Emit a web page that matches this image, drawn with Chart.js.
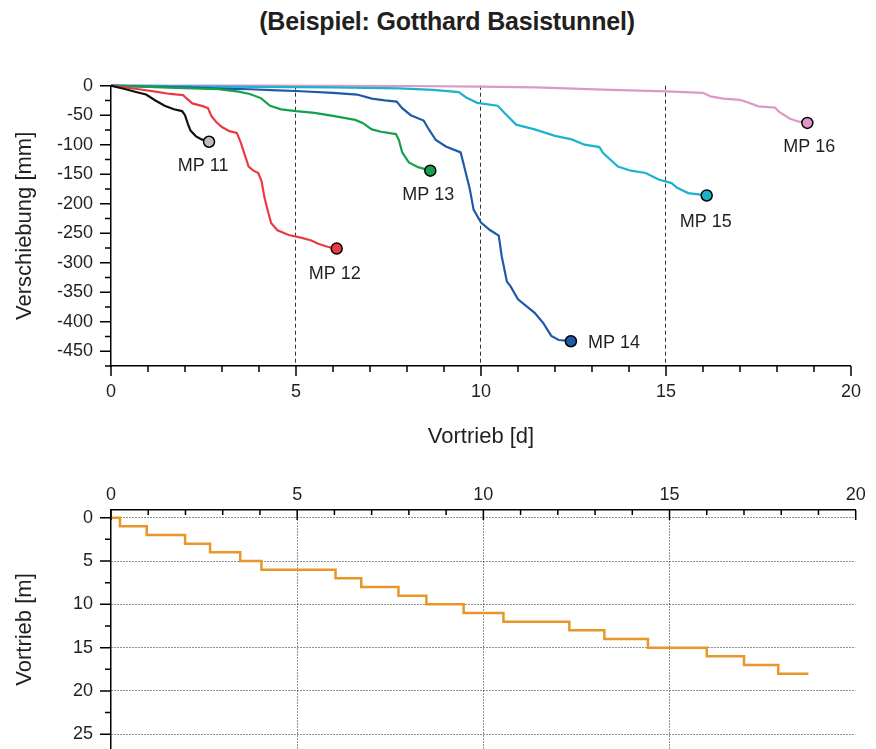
<!DOCTYPE html>
<html><head><meta charset="utf-8">
<script src="https://cdn.jsdelivr.net/npm/chart.js@4.4.1/dist/chart.umd.min.js"></script>
<style>
html,body{margin:0;padding:0;background:#fff;overflow:hidden;width:876px;height:749px;}
#title{position:absolute;left:0;top:6px;width:894px;text-align:center;font:bold 25px "Liberation Sans",Arial,sans-serif;line-height:30px;color:#231F20;letter-spacing:-0.2px;}
#c1{position:absolute;left:0;top:0;}
#c2{position:absolute;left:0;top:449px;}
</style></head><body>
<div id="title">(Beispiel: Gotthard Basistunnel)</div>
<canvas id="c1" width="876" height="460"></canvas>
<canvas id="c2" width="876" height="300"></canvas>
<script>
// ---- data (days, displacement mm) ----
const seriesNames = ['MP 11','MP 12','MP 13','MP 14','MP 15','MP 16'];
const mp11 = [[0,0],[0.4,-6],[0.7,-11],[0.95,-15],[1.2,-25],[1.45,-34],[1.7,-40],[1.92,-43],[2.0,-50],[2.08,-65],[2.15,-76],[2.3,-86],[2.45,-91],[2.65,-95]];
const mp12 = [[0,0],[0.4,-3],[0.75,-6],[1.2,-10],[1.6,-14],[1.95,-16],[2.05,-22],[2.2,-30],[2.5,-35],[2.62,-38],[2.72,-52],[2.85,-62],[3.0,-70],[3.2,-77],[3.4,-80],[3.5,-95],[3.62,-118],[3.72,-137],[3.85,-144],[3.98,-148],[4.07,-162],[4.15,-190],[4.25,-215],[4.33,-233],[4.5,-245],[4.8,-253],[5.1,-257],[5.4,-262],[5.6,-268],[5.85,-273],[6.1,-276]];
const mp13 = [[0,0],[1,-2],[2,-4],[2.9,-6],[3.45,-10],[3.75,-14],[4.05,-21],[4.3,-34],[4.6,-40],[5.0,-43],[5.5,-46],[6.0,-51],[6.6,-58],[6.8,-63],[7.05,-74],[7.3,-78],[7.7,-82],[7.78,-92],[7.87,-113],[8.05,-130],[8.3,-138],[8.63,-144]];
const mp14 = [[0,0],[1,-1.5],[2,-3],[3,-5],[3.75,-6],[4.5,-8],[5.0,-9],[6.0,-12],[6.65,-15],[7.05,-22],[7.4,-25],[7.72,-27],[7.87,-38],[8.1,-50],[8.45,-59],[8.6,-75],[8.78,-92],[9.05,-103],[9.45,-113],[9.57,-143],[9.7,-176],[9.8,-210],[10.0,-232],[10.25,-245],[10.48,-254],[10.56,-289],[10.7,-332],[10.8,-340],[11.0,-362],[11.45,-385],[11.68,-402],[11.9,-424],[12.1,-431],[12.43,-433]];
const mp15 = [[0,0],[2,-1],[4,-2],[6,-3],[7.8,-4.5],[8.7,-7],[9.4,-11],[9.6,-20],[9.9,-29],[10.45,-34],[10.65,-47],[10.95,-66],[11.45,-74],[12.0,-85],[12.45,-91],[12.8,-100],[13.2,-104],[13.3,-114],[13.7,-137],[14.05,-144],[14.45,-148],[14.8,-159],[15.15,-165],[15.3,-173],[15.6,-182],[16.1,-186]];
const mp16 = [[0,0],[4,0],[8,-0.5],[10,-1.5],[11.5,-3],[13.3,-6.5],[15,-9.5],[16,-12],[16.2,-18],[16.55,-22],[17.0,-24],[17.2,-28],[17.5,-35],[17.95,-37],[18.05,-44],[18.35,-56],[18.6,-61],[18.82,-63]];
// ---- data (days, advance m) ----
const advance = [[0,0],[0.24,1],[0.96,2],[1.99,3],[2.66,4],[3.47,5],[4.04,6],[6.03,7],[6.72,8],[7.72,9],[8.47,10],[9.47,11],[10.54,12],[12.31,13],[13.25,14],[14.42,15],[16.0,16],[17.0,17],[17.92,18],[18.73,18]];
// ---- ticks ----
const dayTicks = [0,1,2,3,4,5,6,7,8,9,10,11,12,13,14,15,16,17,18,19,20];
const dayLabels = [0,5,10,15,20];
const dispTicks = [-475,-450,-425,-400,-375,-350,-325,-300,-275,-250,-225,-200,-175,-150,-125,-100,-75,-50,-25,0];
const dispLabels = [-450,-400,-350,-300,-250,-200,-150,-100,-50,0];
const advTicks = [0,2.5,5,7.5,10,12.5,15,17.5,20,22.5,25];
const advLabels = [0,5,10,15,20,25];
const gridDays = [5,10,15];

// ---- styles ----
const lineColors = ['#111111','#EC3A45','#14A04C','#1F5AA8','#1CB2CF','#DE98C8'];
const markerFills = ['#BDBDBD','#EC3A45','#14A04C','#1F5AA8','#1CB2CF','#DE98C8'];
const labelOffsets = [
  {dx:-6,dy:24,align:'center'},{dx:-2,dy:25,align:'center'},{dx:-2,dy:24,align:'center'},
  {dx:17,dy:1.5,align:'left'},{dx:-1,dy:27,align:'center'},{dx:2,dy:24,align:'center'}];
const FONT = '"Liberation Sans", Arial, sans-serif';
const TXT = '#231F20';

const tickMarks = {
  id:'tickMarks',
  afterDraw(chart, args, opts){
    const ctx = chart.ctx;
    ctx.save();
    ctx.strokeStyle = '#000'; ctx.lineWidth = 1.5;
    ctx.beginPath();
    ['x','y'].forEach(k=>{
      const cfg = opts[k], s = chart.scales[k];
      if(!cfg||!s) return;
      s.ticks.forEach(t=>{
        const len = cfg.majorVals.includes(t.value) ? cfg.major : cfg.minor;
        const p = s.getPixelForValue(t.value);
        if(s.isHorizontal()){
          const y0 = s.position==='top' ? s.bottom : s.top;
          const sign = ((s.position==='top')===(cfg.dir==='in')) ? 1 : -1;
          ctx.moveTo(p, y0); ctx.lineTo(p, y0+sign*len);
        } else {
          const x0 = s.right;
          const sign = cfg.dir==='in' ? 1 : -1;
          ctx.moveTo(x0, p); ctx.lineTo(x0+sign*len, p);
        }
      });
    });
    ctx.stroke();
    ctx.restore();
  }
};
const endLabels = {
  id:'endLabels',
  afterDatasetsDraw(chart, args, opts){
    if(!opts.offsets) return;
    const ctx = chart.ctx;
    ctx.save();
    ctx.font = '18px '+FONT; ctx.fillStyle = TXT; ctx.textBaseline='middle';
    chart.data.datasets.forEach((ds,i)=>{
      const meta = chart.getDatasetMeta(i);
      const pt = meta.data[meta.data.length-1];
      const o = opts.offsets[i];
      ctx.textAlign = o.align;
      ctx.fillText(ds.label, pt.x+o.dx, pt.y+o.dy);
    });
    ctx.restore();
  }
};
Chart.register(tickMarks, endLabels);

const series = [mp11, mp12, mp13, mp14, mp15, mp16];
new Chart(document.getElementById('c1'), {
  type:'line',
  data:{datasets: series.map((d,i)=>({
    label: seriesNames[i],
    data: d.map(([x,y])=>({x,y})),
    borderColor: lineColors[i], borderWidth: 2.2, tension: 0,
    pointRadius: c => c.dataIndex===d.length-1 ? 5.5 : 0,
    pointBackgroundColor: markerFills[i], pointBorderColor:'#000', pointBorderWidth:1.5,
    clip: 8
  }))},
  options:{
    responsive:false, animation:false, devicePixelRatio:1,
    layout:{padding:{top:85.7,left:0,right:20.3,bottom:0}},
    plugins:{legend:{display:false}, tooltip:{enabled:false},
      tickMarks:{x:{dir:'out',major:10,minor:6,majorVals:dayLabels}, y:{dir:'out',major:11,minor:6,majorVals:dispLabels}},
      endLabels:{offsets:labelOffsets}},
    scales:{
      x:{type:'linear', position:'bottom', min:0, max:20,
        afterBuildTicks: s=>{ s.ticks = dayTicks.map(v=>({value:v})); },
        afterFit: s=>{ s.height = 94; },
        grid:{drawTicks:false, lineWidth:1, color: c=> (c.tick && gridDays.includes(c.tick.value)) ? '#333' : 'rgba(0,0,0,0)'},
        border:{display:true, color:'#000', width:1.5, dash:[4,3]},
        ticks:{padding:15, autoSkip:false, maxRotation:0, color:TXT, font:{family:FONT,size:18},
          callback: v=> dayLabels.includes(v) ? String(v) : ''},
        title:{display:true, text:'Vortrieb [d]', color:TXT, font:{family:FONT,size:22}, padding:{top:0,bottom:10}}
      },
      y:{type:'linear', min:-475, max:0,
        afterBuildTicks: s=>{ s.ticks = dispTicks.map(v=>({value:v})); },
        afterFit: s=>{ s.width = 111; s.paddingTop = 0; s.paddingBottom = 0; },
        grid:{display:false, drawTicks:false},
        border:{display:true, color:'#000', width:1.5},
        ticks:{padding:18, autoSkip:false, color:TXT, font:{family:FONT,size:18},
          callback: v=> dispLabels.includes(v) ? String(v) : ''},
        title:{display:true, text:'Verschiebung [mm]', color:TXT, font:{family:FONT,size:22}, padding:{top:12,bottom:0}}
      }
    }
  }
});

new Chart(document.getElementById('c2'), {
  type:'line',
  data:{datasets:[{
    label:'Vortrieb',
    data: advance.map(([x,y])=>({x,y})),
    borderColor:'#E8952A', borderWidth:2.5, stepped:true, pointRadius:0, clip:8
  }]},
  options:{
    responsive:false, animation:false, devicePixelRatio:1,
    layout:{padding:{top:0,left:0,right:20.3,bottom:0}},
    plugins:{legend:{display:false}, tooltip:{enabled:false},
      tickMarks:{x:{dir:'in',major:10,minor:5,majorVals:dayLabels}, y:{dir:'out',major:11,minor:6,majorVals:advLabels}}},
    scales:{
      x:{type:'linear', position:'top', min:0, max:20,
        afterBuildTicks: s=>{ s.ticks = dayTicks.map(v=>({value:v})); },
        afterFit: s=>{ s.height = 61; },
        grid:{drawTicks:false, lineWidth:1, color: c=> (c.tick && gridDays.includes(c.tick.value)) ? '#222' : 'rgba(0,0,0,0)'},
        border:{display:true, color:'#000', width:1.5, dash:[1,2]},
        ticks:{padding:4, autoSkip:false, maxRotation:0, color:TXT, font:{family:FONT,size:18},
          callback: v=> dayLabels.includes(v) ? String(v) : ''}
      },
      y:{type:'linear', reverse:true, min:-0.89, max:26.7,
        afterBuildTicks: s=>{ s.ticks = advTicks.map(v=>({value:v})); },
        afterFit: s=>{ s.width = 111; s.paddingTop = 0; s.paddingBottom = 0; },
        grid:{drawTicks:false, lineWidth:1, color: c=> (c.tick && advLabels.includes(c.tick.value)) ? '#222' : 'rgba(0,0,0,0)'},
        border:{display:true, color:'#000', width:1.5, dash:[1,2]},
        ticks:{padding:18, autoSkip:false, color:TXT, font:{family:FONT,size:18},
          callback: v=> advLabels.includes(v) ? String(v) : ''},
        title:{display:true, text:'Vortrieb [m]', color:TXT, font:{family:FONT,size:22}, padding:{top:12,bottom:0}}
      }
    }
  }
});
</script>
</body></html>
